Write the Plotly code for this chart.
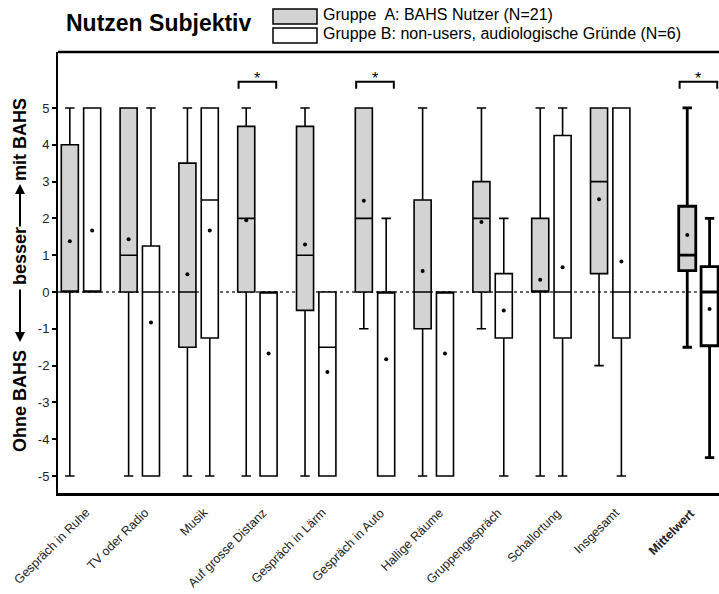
import plotly.graph_objects as go

# Questionnaire items (last one is the overall mean)
categories = ["Gespräch in Ruhe", "TV oder Radio", "Musik", "Auf grosse Distanz",
              "Gespräch in Lärm", "Gespräch in Auto", "Hallige Räume",
              "Gruppengespräch", "Schallortung", "Insgesamt", "Mittelwert"]

# Group A: BAHS users (N=21)
a_low = [-5, -5, -5, -5, -5, -1, -5, -1, -5, -2, -1.5]
a_q1 = [0, 0, -1.5, 0, -0.5, 0, -1, 0, 0, 0.5, 0.58]
a_med = [0, 1, 0, 2, 1, 2, 0, 2, 0, 3, 1.0]
a_q3 = [4, 5, 3.5, 4.5, 4.5, 5, 2.5, 3, 2, 5, 2.33]
a_high = [5, 5, 5, 5, 5, 5, 5, 5, 5, 5, 5]
a_mean = [1.38, 1.43, 0.48, 1.95, 1.29, 2.48, 0.57, 1.90, 0.33, 2.52, 1.55]

# Group B: non-users for audiological reasons (N=6)
b_low = [0, -5, -5, -5, -5, -5, -5, -5, -5, -5, -4.5]
b_q1 = [0, -5, -1.25, -5, -5, -5, -5, -1.25, -1.25, -1.25, -1.46]
b_med = [0, 0, 2.5, 0, -1.5, 0, 0, 0, 0, 0, 0]
b_q3 = [5, 1.25, 5, 0, 0, 0, 0, 0.5, 4.25, 5, 0.69]
b_high = [5, 5, 5, 0, 0, 2, 0, 2, 5, 5, 2]
b_mean = [1.67, -0.83, 1.67, -1.67, -2.17, -1.83, -1.67, -0.5, 0.67, 0.83, -0.46]

# Items with a significant group difference
significant = ["Auf grosse Distanz", "Gespräch in Auto", "Mittelwert"]

y_ticks = [5, 4, 3, 2, 1, 0, -1, -2, -3, -4, -5]

# Category centres: the mean column is set apart by an extra half step
pos = [float(i) for i in range(10)] + [10.5]
OFF = 0.19
BW = 0.29
FILL_A = "#d3d3d3"

W, H = 719, 594
ML, MT, MR, MB = 58, 52, 0, 101
PW, PH = W - ML - MR, H - MT - MB


def px(x):
    return (x - ML) / PW


def py(y):
    return (H - MB - y) / PH


fig = go.Figure()


def add_boxes(idx, offset, low, q1, med, q3, high, fill, lw):
    fig.add_trace(go.Box(
        x=[pos[i] + offset for i in idx],
        lowerfence=[low[i] for i in idx],
        q1=[q1[i] for i in idx],
        median=[med[i] for i in idx],
        q3=[q3[i] for i in idx],
        upperfence=[high[i] for i in idx],
        width=BW, whiskerwidth=0.55,
        fillcolor=fill, line=dict(color="black", width=lw),
        boxpoints=False, hoverinfo="skip", showlegend=False,
    ))


items = list(range(10))
add_boxes(items, -OFF, a_low, a_q1, a_med, a_q3, a_high, FILL_A, 1.6)
add_boxes(items, OFF, b_low, b_q1, b_med, b_q3, b_high, "white", 1.6)
add_boxes([10], -OFF, a_low, a_q1, a_med, a_q3, a_high, FILL_A, 2.8)
add_boxes([10], OFF, b_low, b_q1, b_med, b_q3, b_high, "white", 2.8)

# Means as dots
fig.add_trace(go.Scatter(
    x=[p - OFF for p in pos] + [p + OFF for p in pos],
    y=a_mean + b_mean, mode="markers",
    marker=dict(color="black", size=4),
    hoverinfo="skip", showlegend=False,
))

shapes = []
# zero reference line
shapes.append(dict(type="line", xref="paper", yref="y", x0=0, x1=1, y0=0, y1=0,
                   line=dict(color="#666666", width=2, dash="dot"), layer="below"))
# top frame line
shapes.append(dict(type="line", xref="paper", yref="paper", x0=0, x1=1.05, y0=1, y1=1,
                   line=dict(color="black", width=2.5)))

annotations = []
# significance brackets
for name in significant:
    c = pos[categories.index(name)]
    shapes.append(dict(type="path", xref="x", yref="y",
                       path=f"M {c-0.32},5.52 L {c-0.32},5.71 L {c+0.32},5.71 L {c+0.32},5.52",
                       line=dict(color="black", width=2)))
    annotations.append(dict(x=c, y=5.8, xref="x", yref="y", yanchor="middle", text="*",
                            showarrow=False,
                            font=dict(size=16, color="black", family="Liberation Sans")))

# slanted category labels under the axis
for i, name in enumerate(categories):
    bold = name == "Mittelwert"
    annotations.append(dict(
        x=pos[i], xref="x", y=py(503), yref="paper",
        xanchor="right", yanchor="top", xshift=2 if bold else 15,
        text=f"<b>{name}</b>" if bold else name, textangle=-45, showarrow=False,
        font=dict(size=12.5, color="#222222", family="Liberation Sans"),
    ))

# title and legend
annotations.append(dict(x=px(64), y=py(23), xref="paper", yref="paper", xanchor="left",
                        yanchor="middle", text="<b>Nutzen Subjektiv</b>", showarrow=False,
                        font=dict(size=23, color="black", family="Liberation Sans")))
shapes.append(dict(type="rect", xref="paper", yref="paper", x0=px(273), x1=px(317),
                   y0=py(9), y1=py(24), fillcolor=FILL_A, line=dict(color="black", width=1.5)))
shapes.append(dict(type="rect", xref="paper", yref="paper", x0=px(273), x1=px(317),
                   y0=py(28), y1=py(43), fillcolor="white", line=dict(color="black", width=1.5)))
annotations.append(dict(x=px(321), y=py(15), xref="paper", yref="paper", xanchor="left",
                        yanchor="middle", text="Gruppe  A: BAHS Nutzer (N=21)", showarrow=False,
                        font=dict(size=16, color="black", family="Liberation Sans")))
annotations.append(dict(x=px(321), y=py(34), xref="paper", yref="paper", xanchor="left",
                        yanchor="middle", text="Gruppe B: non-users, audiologische Gründe (N=6)",
                        showarrow=False,
                        font=dict(size=16, color="black", family="Liberation Sans")))

# y-axis caption with arrows
yfont = dict(size=18, color="black", family="Liberation Sans")
for txt, yc in [("<b>mit BAHS</b>", 140), ("<b>besser</b>", 256), ("<b>Ohne BAHS</b>", 401)]:
    annotations.append(dict(x=px(20), y=py(yc), xref="paper", yref="paper", text=txt,
                            xanchor="center", yanchor="middle",
                            textangle=-90, showarrow=False, font=yfont))
annotations.append(dict(x=px(20), y=py(184), xref="paper", yref="paper", text="",
                        showarrow=True, ax=0, ay=44, arrowhead=2, arrowsize=1,
                        arrowwidth=2, arrowcolor="black"))
annotations.append(dict(x=px(20), y=py(342), xref="paper", yref="paper", text="",
                        showarrow=True, ax=0, ay=-54, arrowhead=2, arrowsize=1,
                        arrowwidth=2, arrowcolor="black"))

fig.update_layout(
    width=W, height=H,
    margin=dict(l=ML, r=MR, t=MT, b=MB),
    paper_bgcolor="white", plot_bgcolor="white",
    boxmode="overlay",
    shapes=shapes, annotations=annotations,
    font=dict(family="Liberation Sans", color="black"),
    xaxis=dict(range=[-0.391, 10.85], tickmode="array", tickvals=pos,
               showticklabels=False,
               showline=True, linecolor="black", linewidth=2.5, ticks="",
               showgrid=False, zeroline=False, fixedrange=True),
    yaxis=dict(range=[-5.46, 6.52], tickmode="array", tickvals=y_ticks,
               ticktext=[str(v) for v in y_ticks], tickfont=dict(size=13, color="#222222"),
               showline=True, linecolor="black", linewidth=2, ticks="outside",
               ticklen=4, tickwidth=1.5, tickcolor="black",
               showgrid=False, zeroline=False, fixedrange=True),
)

fig.write_html("out.html")
